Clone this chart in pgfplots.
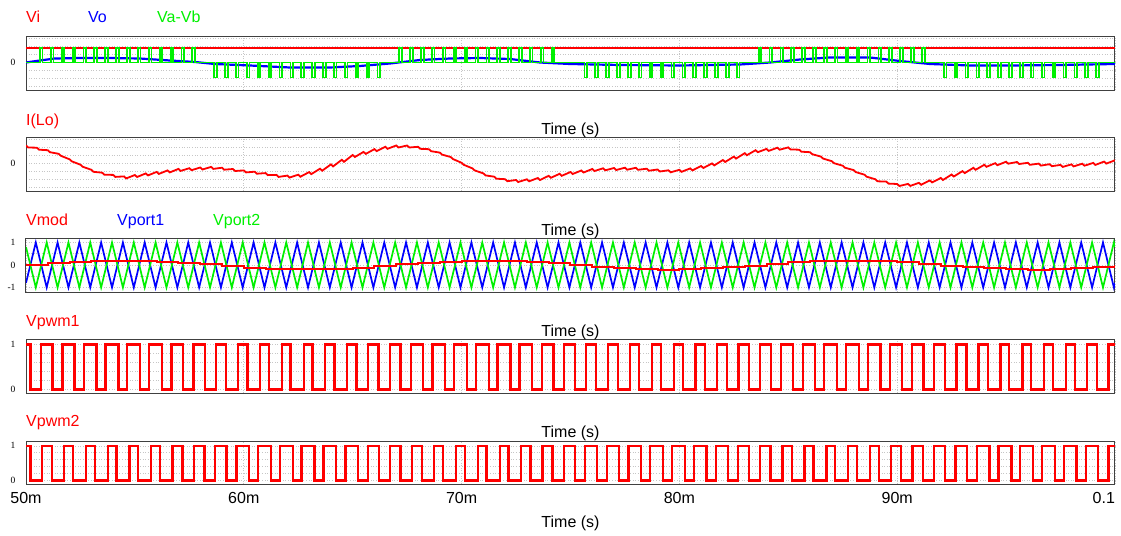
\documentclass[border=0pt]{standalone}
\usepackage{pgfplots}
\pgfplotsset{compat=1.18}
\usepackage{fontspec}
\setmainfont{Liberation Sans}
\newfontfamily\tickfont{Liberation Serif}
\definecolor{pred}{RGB}{255,0,0}
\definecolor{pblue}{RGB}{0,0,255}
\definecolor{pgreen}{RGB}{0,240,0}
\newcommand\lbl{\fontsize{16bp}{19bp}\selectfont}
\pgfplotsset{
  psim/.style={
    scale only axis, width=1089bp, anchor=north west,
    xmin=50, xmax=100, xtick={50,60,70,80,90,100}, xticklabels={},
    axis line style={line width=1bp, black!75},
    major tick length=0pt, minor tick length=0pt,
    xmajorgrids, ymajorgrids, yminorgrids,
    major grid style={line width=0.6bp, gray!45, dotted},
    minor grid style={line width=0.6bp, gray!45, dotted},
    yticklabel style={font=\tickfont\fontsize{9.5bp}{10bp}\selectfont, xshift=-7bp},
    every axis plot/.append style={line width=1.9bp, line join=miter},
  }
}
\begin{document}
\begin{tikzpicture}[x=1bp,y=1bp]
\useasboundingbox (0,0) rectangle (1121bp,-536bp);
% ---------------- panel 1
\begin{axis}[psim, at={(26bp,-36bp)}, height=54bp, ymin=-27.5, ymax=26.5,
  ytick={0}, yticklabels={0}, minor ytick={-24,-16,-8,8,16,24}]
\addplot[pblue, line width=2.2bp] coordinates {(50.0,0)(50.64,2)(51.33,4)(52.48,4.5)(53.86,4.5)(55.23,4)(56.61,2)(57.76,0.5)(58.68,-1.5)(60.28,-3)(62.12,-5)(63.96,-5)(65.33,-3.5)(66.71,-1)(68.09,2.5)(69.47,4)(70.84,4.5)(72.22,3.5)(73.6,0)(74.98,-1.5)(77.27,-2.5)(80.03,-3)(82.78,-2)(84.16,0)(85.54,3)(86.91,5)(88.75,5)(90.13,1.5)(91.51,-1.5)(93.34,-3)(95.18,-3)(97.47,-2.5)(100,-1.5)};
\addplot[pred] coordinates {(50,14.5)(100,14.5)};
\addplot[pgreen, const plot, line width=1.8bp] coordinates {(50,0)(50.64,14.5)(50.76,0)(51.14,14.5)(51.26,0)(51.64,14.5)(51.76,0)(52.14,14.5)(52.26,0)(52.64,14.5)(52.76,0)(53.14,14.5)(53.26,0)(53.64,14.5)(53.76,0)(54.14,14.5)(54.26,0)(54.64,14.5)(54.76,0)(55.14,14.5)(55.26,0)(55.64,14.5)(55.76,0)(56.14,14.5)(56.26,0)(56.64,14.5)(56.76,0)(57.14,14.5)(57.26,0)(57.64,14.5)(57.76,0)
(58.64,-15)(58.76,0)(59.14,-15)(59.26,0)(59.64,-15)(59.76,0)(60.14,-15)(60.26,0)(60.64,-15)(60.76,0)(61.14,-15)(61.26,0)(61.64,-15)(61.76,0)(62.14,-15)(62.26,0)(62.64,-15)(62.76,0)(63.14,-15)(63.26,0)(63.64,-15)(63.76,0)(64.14,-15)(64.26,0)(64.64,-15)(64.76,0)(65.14,-15)(65.26,0)(65.64,-15)(65.76,0)(66.14,-15)(66.26,0)
(67.14,14.5)(67.26,0)(67.64,14.5)(67.76,0)(68.14,14.5)(68.26,0)(68.64,14.5)(68.76,0)(69.14,14.5)(69.26,0)(69.64,14.5)(69.76,0)(70.14,14.5)(70.26,0)(70.64,14.5)(70.76,0)(71.14,14.5)(71.26,0)(71.64,14.5)(71.76,0)(72.14,14.5)(72.26,0)(72.64,14.5)(72.76,0)(73.14,14.5)(73.26,0)(73.64,14.5)(73.76,0)(74.14,14.5)(74.26,0)
(75.64,-15)(75.76,0)(76.14,-15)(76.26,0)(76.64,-15)(76.76,0)(77.14,-15)(77.26,0)(77.64,-15)(77.76,0)(78.14,-15)(78.26,0)(78.64,-15)(78.76,0)(79.14,-15)(79.26,0)(79.64,-15)(79.76,0)(80.14,-15)(80.26,0)(80.64,-15)(80.76,0)(81.14,-15)(81.26,0)(81.64,-15)(81.76,0)(82.14,-15)(82.26,0)(82.64,-15)(82.76,0)
(83.64,14.5)(83.76,0)(84.14,14.5)(84.26,0)(84.64,14.5)(84.76,0)(85.14,14.5)(85.26,0)(85.64,14.5)(85.76,0)(86.14,14.5)(86.26,0)(86.64,14.5)(86.76,0)(87.14,14.5)(87.26,0)(87.64,14.5)(87.76,0)(88.14,14.5)(88.26,0)(88.64,14.5)(88.76,0)(89.14,14.5)(89.26,0)(89.64,14.5)(89.76,0)(90.14,14.5)(90.26,0)(90.64,14.5)(90.76,0)(91.14,14.5)(91.26,0)
(92.14,-15)(92.26,0)(92.64,-15)(92.76,0)(93.14,-15)(93.26,0)(93.64,-15)(93.76,0)(94.14,-15)(94.26,0)(94.64,-15)(94.76,0)(95.14,-15)(95.26,0)(95.64,-15)(95.76,0)(96.14,-15)(96.26,0)(96.64,-15)(96.76,0)(97.14,-15)(97.26,0)(97.64,-15)(97.76,0)(98.14,-15)(98.26,0)(98.64,-15)(98.76,0)(99.14,-15)(99.26,0)(100,0)};
\end{axis}
% ---------------- panel 2
\begin{axis}[psim, at={(26bp,-137bp)}, height=54bp, ymin=-27.5, ymax=26.5,
  ytick={0}, yticklabels={0}, minor ytick={-24,-16,-8,8,16,24}]
\addplot[pred, line width=1.8bp] coordinates {(50,18)(50.1,16)(50.5,15.8)(50.6,13.8)(51,13.3)(51.1,11.3)(51.5,9.7)(51.6,7.7)(52,4.2)(52.1,2.2)(52.5,-1.2)(52.6,-3.2)(53,-6.3)(53.1,-8.3)(53.5,-9.2)(53.6,-11.2)(54,-11.4)(54.1,-13.4)(54.5,-12.9)(54.6,-14.9)(55,-11.5)(55.1,-13.5)(55.5,-9.9)(55.6,-11.9)(56,-8.4)(56.1,-10.4)(56.5,-6.9)(56.6,-8.9)(57,-5.4)(57.1,-7.4)(57.5,-4.7)(57.6,-6.7)(58,-4)(58.1,-6)(58.5,-3.4)(58.6,-5.4)(59,-4.2)(59.1,-6.2)(59.5,-5.5)(59.6,-7.5)(60,-6.9)(60.1,-8.9)(60.5,-8.2)(60.6,-10.2)(61,-9.6)(61.1,-11.6)(61.5,-11.4)(61.6,-13.4)(62,-12.1)(62.1,-14.1)(62.5,-11.2)(62.6,-13.2)(63,-8.6)(63.1,-10.6)(63.5,-5.2)(63.6,-7.2)(64,-0.9)(64.1,-2.9)(64.5,3.7)(64.6,1.7)(65,8.5)(65.1,6.5)(65.5,11.6)(65.6,9.6)(66,14.4)(66.1,12.4)(66.5,16.7)(66.6,14.7)(67,18)(67.1,16)(67.5,18)(67.6,16)(68,16.7)(68.1,14.7)(68.5,14.3)(68.6,12.3)(69,10.9)(69.1,8.9)(69.5,6.5)(69.6,4.5)(70,0.7)(70.1,-1.3)(70.5,-4.9)(70.6,-6.9)(71,-9.9)(71.1,-11.9)(71.5,-13.2)(71.6,-15.2)(72,-15.7)(72.1,-17.7)(72.5,-16.5)(72.6,-18.5)(73,-15.8)(73.1,-17.8)(73.5,-14.5)(73.6,-16.5)(74,-12.3)(74.1,-14.3)(74.5,-10.3)(74.6,-12.3)(75,-8.5)(75.1,-10.5)(75.5,-7)(75.6,-9)(76,-5.5)(76.1,-7.5)(76.5,-4.8)(76.6,-6.8)(77,-4.5)(77.1,-6.5)(77.5,-4.2)(77.6,-6.2)(78,-4.3)(78.1,-6.3)(78.5,-5.2)(78.6,-7.2)(79,-6)(79.1,-8)(79.5,-6.8)(79.6,-8.8)(80,-6.3)(80.1,-8.3)(80.5,-4.9)(80.6,-6.9)(81,-2.5)(81.1,-4.5)(81.5,0.1)(81.6,-1.9)(82,3.5)(82.1,1.5)(82.5,6.9)(82.6,4.9)(83,10.3)(83.1,8.3)(83.5,13.3)(83.6,11.3)(84,14.6)(84.1,12.6)(84.5,15.8)(84.6,13.8)(85,16.1)(85.1,14.1)(85.5,13.8)(85.6,11.8)(86,11.3)(86.1,9.3)(86.5,6.9)(86.6,4.9)(87,2.3)(87.1,0.3)(87.5,-2.2)(87.6,-4.2)(88,-6.6)(88.1,-8.6)(88.5,-11.2)(88.6,-13.2)(89,-15.8)(89.1,-17.8)(89.5,-18.1)(89.6,-20.1)(90,-20.5)(90.1,-22.5)(90.5,-20.4)(90.6,-22.4)(91,-19.3)(91.1,-21.3)(91.5,-16.9)(91.6,-18.9)(92,-14.5)(92.1,-16.5)(92.5,-11)(92.6,-13)(93,-7.6)(93.1,-9.6)(93.5,-4.3)(93.6,-6.3)(94,-1.3)(94.1,-3.3)(94.5,0.3)(94.6,-1.7)(95,1.8)(95.1,-0.2)(95.5,1.5)(95.6,-0.5)(96,0.7)(96.1,-1.3)(96.5,-0.1)(96.6,-2.1)(97,-0.7)(97.1,-2.7)(97.5,-1.4)(97.6,-3.4)(98,-0.9)(98.1,-2.9)(98.5,-0.2)(98.6,-2.2)(99,0.6)(99.1,-1.4)(99.5,1.9)(99.6,-0.1)(100,3.2)};
\end{axis}
% ---------------- panel 3
\begin{axis}[psim, at={(26bp,-238bp)}, height=54bp, ymin=-1.2, ymax=1.2,
  ytick={-1,0,1}, yticklabels={-1,0,1}, minor ytick={-0.5,0.5}]
\addplot[pblue, line width=1.7bp] coordinates {(50,-0.8)(50.45,1)(50.95,-1)(51.45,1)(51.95,-1)(52.45,1)(52.95,-1)(53.45,1)(53.95,-1)(54.45,1)(54.95,-1)(55.45,1)(55.95,-1)(56.45,1)(56.95,-1)(57.45,1)(57.95,-1)(58.45,1)(58.95,-1)(59.45,1)(59.95,-1)(60.45,1)(60.95,-1)(61.45,1)(61.95,-1)(62.45,1)(62.95,-1)(63.45,1)(63.95,-1)(64.45,1)(64.95,-1)(65.45,1)(65.95,-1)(66.45,1)(66.95,-1)(67.45,1)(67.95,-1)(68.45,1)(68.95,-1)(69.45,1)(69.95,-1)(70.45,1)(70.95,-1)(71.45,1)(71.95,-1)(72.45,1)(72.95,-1)(73.45,1)(73.95,-1)(74.45,1)(74.95,-1)(75.45,1)(75.95,-1)(76.45,1)(76.95,-1)(77.45,1)(77.95,-1)(78.45,1)(78.95,-1)(79.45,1)(79.95,-1)(80.45,1)(80.95,-1)(81.45,1)(81.95,-1)(82.45,1)(82.95,-1)(83.45,1)(83.95,-1)(84.45,1)(84.95,-1)(85.45,1)(85.95,-1)(86.45,1)(86.95,-1)(87.45,1)(87.95,-1)(88.45,1)(88.95,-1)(89.45,1)(89.95,-1)(90.45,1)(90.95,-1)(91.45,1)(91.95,-1)(92.45,1)(92.95,-1)(93.45,1)(93.95,-1)(94.45,1)(94.95,-1)(95.45,1)(95.95,-1)(96.45,1)(96.95,-1)(97.45,1)(97.95,-1)(98.45,1)(98.95,-1)(99.45,1)(99.95,-1)(100,-0.8)};
\addplot[pgreen, line width=1.7bp] coordinates {(50,0.8)(50.45,-1)(50.95,1)(51.45,-1)(51.95,1)(52.45,-1)(52.95,1)(53.45,-1)(53.95,1)(54.45,-1)(54.95,1)(55.45,-1)(55.95,1)(56.45,-1)(56.95,1)(57.45,-1)(57.95,1)(58.45,-1)(58.95,1)(59.45,-1)(59.95,1)(60.45,-1)(60.95,1)(61.45,-1)(61.95,1)(62.45,-1)(62.95,1)(63.45,-1)(63.95,1)(64.45,-1)(64.95,1)(65.45,-1)(65.95,1)(66.45,-1)(66.95,1)(67.45,-1)(67.95,1)(68.45,-1)(68.95,1)(69.45,-1)(69.95,1)(70.45,-1)(70.95,1)(71.45,-1)(71.95,1)(72.45,-1)(72.95,1)(73.45,-1)(73.95,1)(74.45,-1)(74.95,1)(75.45,-1)(75.95,1)(76.45,-1)(76.95,1)(77.45,-1)(77.95,1)(78.45,-1)(78.95,1)(79.45,-1)(79.95,1)(80.45,-1)(80.95,1)(81.45,-1)(81.95,1)(82.45,-1)(82.95,1)(83.45,-1)(83.95,1)(84.45,-1)(84.95,1)(85.45,-1)(85.95,1)(86.45,-1)(86.95,1)(87.45,-1)(87.95,1)(88.45,-1)(88.95,1)(89.45,-1)(89.95,1)(90.45,-1)(90.95,1)(91.45,-1)(91.95,1)(92.45,-1)(92.95,1)(93.45,-1)(93.95,1)(94.45,-1)(94.95,1)(95.45,-1)(95.95,1)(96.45,-1)(96.95,1)(97.45,-1)(97.95,1)(98.45,-1)(98.95,1)(99.45,-1)(99.95,1)(100,0.8)};
\addplot[pred, const plot, line width=2bp] coordinates {(50,0)(51,0.074)(52,0.137)(53,0.181)(54,0.2)(55,0.19)(56,0.154)(57,0.096)(58,0.025)(59,-0.05)(60,-0.118)(61,-0.169)(62,-0.196)(63,-0.196)(64,-0.169)(65,-0.118)(66,-0.05)(67,0.025)(68,0.096)(69,0.154)(70,0.19)(71,0.2)(72,0.181)(73,0.137)(74,0.074)(75,0)(76,-0.074)(77,-0.137)(78,-0.181)(79,-0.2)(80,-0.19)(81,-0.154)(82,-0.096)(83,-0.025)(84,0.05)(85,0.118)(86,0.169)(87,0.196)(88,0.196)(89,0.169)(90,0.118)(91,0.05)(92,-0.025)(93,-0.096)(94,-0.154)(95,-0.19)(96,-0.2)(97,-0.181)(98,-0.137)(99,-0.074)(100,0)};
\end{axis}
% ---------------- panel 4
\begin{axis}[psim, at={(26bp,-339bp)}, height=54bp, ymin=-0.08, ymax=1.12,
  ytick={0,1}, yticklabels={0,1}, minor ytick={0.2,0.4,0.6,0.8}]
\addplot[pred, const plot, line width=2.3bp, line cap=rect] coordinates {(50,1)(50.2,0)(50.68,1)(51.22,0)(51.67,1)(52.23,0)(52.66,1)(53.24,0)(53.65,1)(54.25,0)(54.65,1)(55.25,0)(55.66,1)(56.24,0)(56.68,1)(57.22,0)(57.69,1)(58.21,0)(58.71,1)(59.19,0)(59.73,1)(60.17,0)(60.74,1)(61.16,0)(61.75,1)(62.15,0)(62.75,1)(63.15,0)(63.74,1)(64.16,0)(64.73,1)(65.17,0)(65.71,1)(66.19,0)(66.70,1)(67.20,0)(67.68,1)(68.22,0)(68.66,1)(69.24,0)(69.65,1)(70.25,0)(70.65,1)(71.25,0)(71.65,1)(72.25,0)(72.66,1)(73.24,0)(73.68,1)(74.22,0)(74.70,1)(75.20,0)(75.72,1)(76.18,0)(76.73,1)(77.17,0)(77.74,1)(78.16,0)(78.75,1)(79.15,0)(79.75,1)(80.15,0)(80.74,1)(81.16,0)(81.72,1)(82.18,0)(82.71,1)(83.19,0)(83.69,1)(84.21,0)(84.67,1)(85.23,0)(85.66,1)(86.24,0)(86.65,1)(87.25,0)(87.65,1)(88.25,0)(88.66,1)(89.24,0)(89.67,1)(90.23,0)(90.69,1)(91.21,0)(91.70,1)(92.20,0)(92.72,1)(93.18,0)(93.74,1)(94.16,0)(94.75,1)(95.15,0)(95.75,1)(96.15,0)(96.75,1)(97.15,0)(97.74,1)(98.16,0)(98.72,1)(99.18,0)(99.70,1)(100,1)};
\end{axis}
% ---------------- panel 5
\begin{axis}[psim, at={(26bp,-441bp)}, height=43bp, ymin=-0.1, ymax=1.14,
  ytick={0,1}, yticklabels={0,1}, minor ytick={0.2,0.4,0.6,0.8},
  xticklabels={50m,60m,70m,80m,90m,\llap{0.1}},
  xticklabel style={font=\lbl, anchor=base, yshift=-19.5bp}]
\addplot[pred, const plot, line width=2.3bp, line cap=rect] coordinates {(50,1)(50.2,0)(50.72,1)(51.18,0)(51.73,1)(52.17,0)(52.74,1)(53.16,0)(53.75,1)(54.15,0)(54.75,1)(55.15,0)(55.74,1)(56.16,0)(56.72,1)(57.18,0)(57.71,1)(58.19,0)(58.69,1)(59.21,0)(59.67,1)(60.23,0)(60.66,1)(61.24,0)(61.65,1)(62.25,0)(62.65,1)(63.25,0)(63.66,1)(64.24,0)(64.67,1)(65.23,0)(65.69,1)(66.21,0)(66.70,1)(67.20,0)(67.72,1)(68.18,0)(68.74,1)(69.16,0)(69.75,1)(70.15,0)(70.75,1)(71.15,0)(71.75,1)(72.15,0)(72.74,1)(73.16,0)(73.72,1)(74.18,0)(74.70,1)(75.20,0)(75.68,1)(76.22,0)(76.67,1)(77.23,0)(77.66,1)(78.24,0)(78.65,1)(79.25,0)(79.65,1)(80.25,0)(80.66,1)(81.24,0)(81.68,1)(82.22,0)(82.69,1)(83.21,0)(83.71,1)(84.19,0)(84.73,1)(85.17,0)(85.74,1)(86.16,0)(86.75,1)(87.15,0)(87.75,1)(88.15,0)(88.74,1)(89.16,0)(89.73,1)(90.17,0)(90.71,1)(91.19,0)(91.70,1)(92.20,0)(92.68,1)(93.22,0)(93.66,1)(94.24,0)(94.65,1)(95.25,0)(95.65,1)(96.25,0)(96.65,1)(97.25,0)(97.66,1)(98.24,0)(98.68,1)(99.22,0)(99.70,1)(100,1)};
\end{axis}
% ---------------- titles
\node[anchor=base west, inner sep=0, text=pred, font=\lbl] at (26bp,-22.7bp) {Vi};
\node[anchor=base west, inner sep=0, text=pblue, font=\lbl] at (88bp,-22.7bp) {Vo};
\node[anchor=base west, inner sep=0, text=pgreen, font=\lbl] at (157bp,-22.7bp) {Va-Vb};
\node[anchor=base west, inner sep=0, text=pred, font=\lbl] at (26bp,-125bp) {I(Lo)};
\node[anchor=base west, inner sep=0, text=pred, font=\lbl] at (26bp,-225bp) {Vmod};
\node[anchor=base west, inner sep=0, text=pblue, font=\lbl] at (117bp,-225bp) {Vport1};
\node[anchor=base west, inner sep=0, text=pgreen, font=\lbl] at (213bp,-225bp) {Vport2};
\node[anchor=base west, inner sep=0, text=pred, font=\lbl] at (26bp,-326.5bp) {Vpwm1};
\node[anchor=base west, inner sep=0, text=pred, font=\lbl] at (26bp,-426.5bp) {Vpwm2};
\foreach \yy in {134.5,235.5,336.5,437.5,527.5}
  \node[anchor=base, inner sep=0, font=\lbl] at (570.5bp,-\yy bp) {Time (s)};
\end{tikzpicture}
\end{document}
